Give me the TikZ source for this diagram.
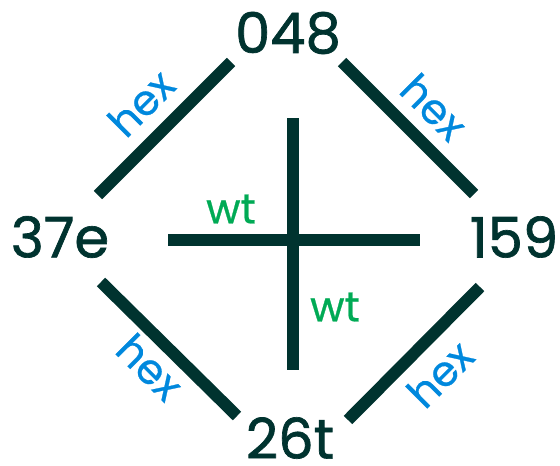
\documentclass[tikz,border=0pt]{standalone}
\usepackage{fontspec}
\setmainfont{Poppins}
\newfontfamily\medfont{Poppins}[FakeBold=1.2]
\newfontfamily\lblfont{Poppins}[FakeBold=0.6]
\definecolor{ink}{HTML}{00332F}
\definecolor{hexblue}{HTML}{0088DD}
\definecolor{wtgreen}{HTML}{00AA55}
\tikzset{
  vert/.style={text=ink, font=\medfont\fontsize{56}{56}\selectfont, inner sep=0pt},
  edge/.style={draw=ink, line width=12pt, line cap=butt},
  hexlbl/.style={text=hexblue, font=\lblfont\fontsize{42}{42}\selectfont, inner sep=0pt},
  wtlbl/.style={text=wtgreen, font=\lblfont\fontsize{42}{42}\selectfont, inner sep=0pt}
}
\begin{document}
\begin{tikzpicture}[x=1pt,y=-1pt]
\useasboundingbox (0,0) rectangle (560,466);
\node[vert] (n048) at (288,33) {048};
\node[vert] (n37e) at (60,237) {37e};
\node[vert] (n159) at (514,237) {159};
\node[vert] (n26t) at (290,438) {26t};
\coordinate (a1) at (98,195);
\coordinate (a2) at (231,62);
\coordinate (b1) at (342,62);
\coordinate (b2) at (474,194);
\coordinate (c1) at (101,282);
\coordinate (c2) at (237,416);
\coordinate (d1) at (348,420);
\coordinate (d2) at (480,287);
\coordinate (v1) at (293,118);
\coordinate (v2) at (293,370);
\coordinate (h1) at (168,240);
\coordinate (h2) at (420,240);
\draw[edge] (a1) -- (a2);
\draw[edge] (b1) -- (b2);
\draw[edge] (c1) -- (c2);
\draw[edge] (d1) -- (d2);
\draw[edge] (v1) -- (v2);
\draw[edge] (h1) -- (h2);
\node[hexlbl, rotate=45] (l1) at (141,103) {hex};
\node[hexlbl, rotate=-45] (l2) at (434,107) {hex};
\node[hexlbl, rotate=-45] (l3) at (150,367) {hex};
\node[hexlbl, rotate=45] (l4) at (440,374) {hex};
\node[wtlbl] (w1) at (231,209) {wt};
\node[wtlbl] (w2) at (335,307) {wt};
\end{tikzpicture}
\end{document}
